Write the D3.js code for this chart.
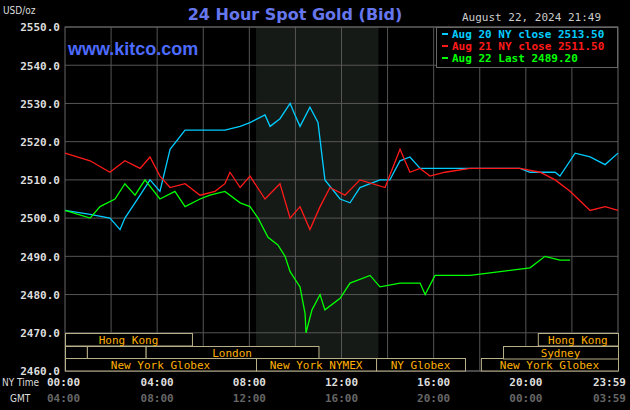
<!DOCTYPE html><html><head><meta charset="utf-8">
<script src="https://cdn.jsdelivr.net/npm/d3@7"></script>
<style>body{margin:0;background:#000}svg{display:block}</style></head><body>
<script>
const yTicks=[2460,2470,2480,2490,2500,2510,2520,2530,2540,2550];
const nyLabels=["00:00","04:00","08:00","12:00","16:00","20:00","23:59"];
const gmtLabels=["04:00","08:00","12:00","16:00","20:00","00:00","03:59"];
const tickHours=[0,4,8,12,16,20,24];
const blueT=[0,1.09,1.95,2.39,2.6,3.26,3.69,4.12,4.56,5.21,5.86,6.94,7.6,8.03,8.68,8.9,9.33,9.77,9.98,10.2,10.63,10.98,11.28,11.94,12.37,12.8,13.67,14.1,14.54,14.97,15.41,16.28,17.58,18.88,19.75,20.18,21.27,21.48,22.14,22.79,23.44,24];
const blueV=[2502,2501,2500,2497,2500,2506,2510,2507,2518,2523,2523,2523,2524,2525,2527,2524,2526,2530,2527,2524,2529,2525,2510,2505,2504,2508,2510,2510,2515,2516,2513,2513,2513,2513,2513,2512,2512,2511,2517,2516,2514,2517];
const redT=[0,1.09,1.95,2.6,3.26,3.69,4.12,4.56,5.21,5.86,6.51,6.94,7.16,7.6,8.03,8.68,9.33,9.77,10.2,10.63,11.07,11.5,12.15,12.8,13.89,14.54,14.97,15.41,15.84,16.49,17.58,19.75,20.62,21.27,21.92,22.79,23.44,24];
const redV=[2517,2515,2512,2515,2513,2516,2511,2508,2509,2506,2507,2509,2512,2508,2511,2505,2509,2500,2503,2497,2503,2508,2506,2510,2508,2518,2512,2513,2511,2512,2513,2513,2512,2510,2507,2502,2503,2502];
const greenT=[0,1.09,1.52,2.17,2.6,3.04,3.47,4.12,4.77,5.21,5.86,6.29,6.94,7.6,8.03,8.38,8.81,9.24,9.55,9.77,10.2,10.42,10.46,10.72,11.07,11.28,11.94,12.37,13.24,13.67,14.54,15.41,15.63,16.06,17.58,18.88,20.18,20.83,21.48,21.92];
const greenV=[2502,2500,2503,2505,2509,2506,2510,2505,2507,2503,2505,2506,2507,2504,2503,2500,2495,2493,2490,2486,2482,2475,2470,2476,2480,2476,2479,2483,2485,2482,2483,2483,2480,2485,2485,2486,2487,2490,2489,2489];
const legend=[["Aug 20 NY close 2513.50","#00ccff"],["Aug 21 NY close 2511.50","#ff1a1a"],["Aug 22 Last 2489.20","#00ff00"]];
const sessions=[[0,0,5.51,"Hong Kong"],[1,0,0.95,""],[1,0.95,3.5,""],[1,3.5,11,"London"],[2,0,8.29,"New York Globex"],[2,8.29,13.5,"New York NYMEX"],[2,13.5,17.36,"NY Globex"],[2,18.05,24,"New York Globex"],[0,20.52,24,"Hong Kong"],[1,19.01,24,"Sydney"]];

const W=630,H=410,L=65,R=618,T=27,B=371;
const svg=d3.select("body").append("svg").attr("width",W).attr("height",H).style("background","#000");
const x=d3.scaleLinear().domain([0,24]).range([L,R]);
const y=d3.scaleLinear().domain([2460,2550]).range([B,T]);
const mono="'DejaVu Sans Mono',monospace";
svg.append("rect").attr("x",x(8.29)).attr("y",T).attr("width",x(13.6)-x(8.29)).attr("height",B-T).attr("fill","#161a16");
const g=svg.append("g");
g.selectAll(".hg").data(yTicks).join("line").attr("x1",L).attr("x2",R).attr("y1",d=>y(d)).attr("y2",d=>y(d)).attr("stroke","#555");
g.selectAll(".vg").data(d3.range(2,24,2)).join("line").attr("y1",T).attr("y2",B).attr("x1",d=>x(d)).attr("x2",d=>x(d)).attr("stroke","#555");
g.append("rect").attr("x",L).attr("y",T).attr("width",R-L).attr("height",B-T).attr("fill","none").attr("stroke","#666");
svg.append("g").attr("transform",`translate(${L},0)`).call(d3.axisLeft(y).tickValues(yTicks).tickFormat(d3.format(".1f")).tickSize(0).tickPadding(5))
 .call(a=>a.select(".domain").remove()).selectAll("text").attr("fill","#ddd").attr("font-family",mono).attr("font-weight","bold").attr("font-size",11).attr("dy","0.35em");
// sessions
const rowY=[333,346,358];
sessions.forEach(s=>{const y0=rowY[s[0]];
 svg.append("rect").attr("x",x(s[1])+0.5).attr("y",y0+0.5).attr("width",x(s[2])-x(s[1])).attr("height",12.5).attr("fill","#000").attr("stroke","#b8b088");
 if(s[3]) svg.append("text").attr("x",(x(s[1])+x(s[2]))/2).attr("y",y0+10.5).attr("text-anchor","middle").attr("fill","#ffb000").attr("font-family",mono).attr("font-size",11).text(s[3]);});
// lines
const line=d3.line().x(d=>x(d[0])).y(d=>y(d[1]));
[[blueT,blueV,"#00ccff"],[redT,redV,"#ff1a1a"],[greenT,greenV,"#00ff00"]].forEach(([t,v,c])=>{
 svg.append("path").datum(t.map((h,i)=>[h,v[i]])).attr("d",line).attr("fill","none").attr("stroke",c).attr("stroke-width",1.3);});
// x labels
tickHours.forEach((h,i)=>{const anc=i==0?"start":i==6?"end":"middle";const xx=i==0?x(h)-18:i==6?x(h)+8:x(h);
 svg.append("text").attr("x",xx).attr("y",386).attr("text-anchor",anc).attr("fill","#ddd").attr("font-family",mono).attr("font-weight","bold").attr("font-size",11).text(nyLabels[i]);
 svg.append("text").attr("x",xx).attr("y",402).attr("text-anchor",anc).attr("fill","#666").attr("font-family",mono).attr("font-weight","bold").attr("font-size",11).text(gmtLabels[i]);});
svg.append("text").attr("x",2).attr("y",386).attr("fill","#ddd").attr("font-family","'Liberation Sans Narrow','DejaVu Sans Condensed',sans-serif").attr("font-size",10).text("NY Time");
svg.append("text").attr("x",10).attr("y",402).attr("fill","#ddd").attr("font-family","'DejaVu Sans Condensed',sans-serif").attr("font-size",10).text("GMT");
svg.append("text").attr("x",3).attr("y",14).attr("fill","#ddd").attr("font-family","'DejaVu Sans Condensed',sans-serif").attr("font-size",10).text("USD/oz");
svg.append("text").attr("x",295).attr("y",20).attr("text-anchor","middle").attr("fill","#6677ee").attr("font-family","'DejaVu Sans',sans-serif").attr("font-size",16).attr("font-weight","bold").text("24 Hour Spot Gold (Bid)");
svg.append("text").attr("x",68).attr("y",55).attr("fill","#4d6bff").attr("font-family","'Liberation Sans',Arial,sans-serif").attr("font-size",18).attr("font-weight","bold").text("www.kitco.com");
svg.append("text").attr("x",462).attr("y",21).attr("fill","#ccc").attr("font-family",mono).attr("font-size",11).text("August 22, 2024 21:49");
svg.append("rect").attr("x",436.5).attr("y",27.5).attr("width",181).attr("height",40).attr("fill","#000").attr("stroke","#666");
legend.forEach((d,i)=>{const yy=38+i*12;
 svg.append("rect").attr("x",442).attr("y",yy-5).attr("width",6).attr("height",2).attr("fill",d[1]);
 svg.append("text").attr("x",452).attr("y",yy).attr("fill",d[1]).attr("font-family",mono).attr("font-weight","bold").attr("font-size",11).text(d[0]);});
</script></body></html>
